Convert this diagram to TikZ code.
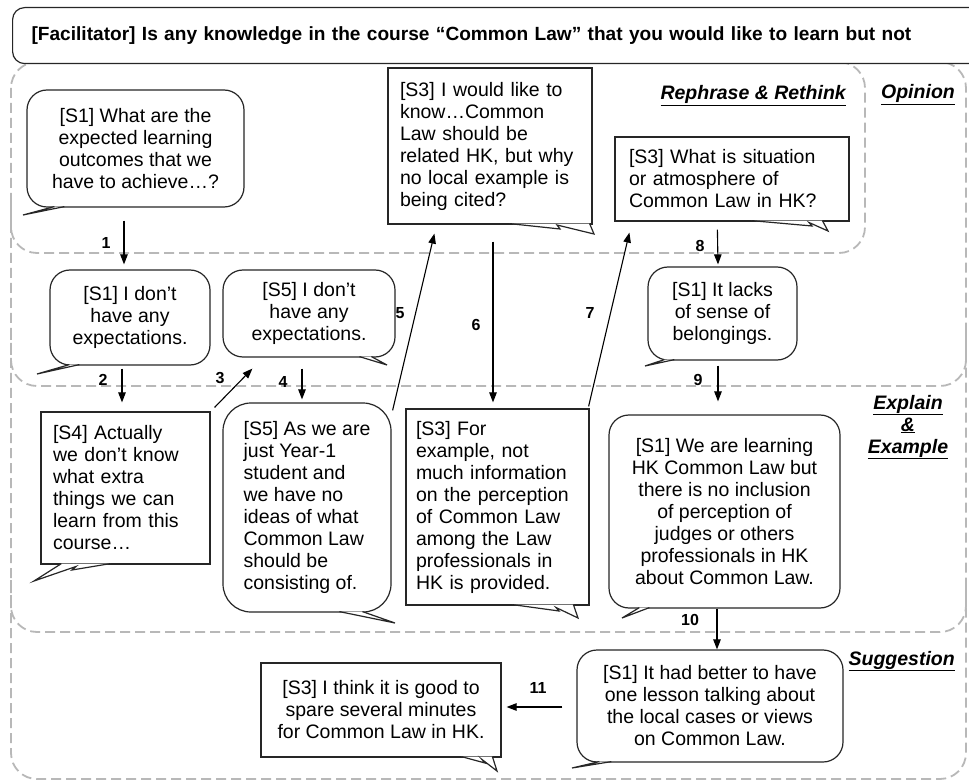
\documentclass[tikz,border=0pt]{standalone}
\usepackage{fontspec}
\setmainfont{Liberation Sans}
\usetikzlibrary{arrows.meta, calc}

\begin{document}
\begin{tikzpicture}[x=1pt, y=-1pt,
    zone/.style={draw=black!28, line width=1.8pt, dash pattern=on 10pt off 5pt, rounded corners=26pt},
    talk/.style={draw=black!85, line width=1.2pt, fill=white, inner sep=0pt,
                 font=\fontsize{19.5}{22}\selectfont},
    bubble/.style={talk, rounded corners=20pt, align=center},
    card/.style={talk, align=left, inner xsep=12pt},
    tail/.style={draw=black!85, line width=1.2pt, fill=white, line join=miter},
    flow/.style={-{Triangle[length=10pt,width=7.5pt]}, line width=1.1pt},
    seq/.style={font=\fontsize{16}{16}\bfseries\selectfont},
    tag/.style={inner sep=0pt, font=\fontsize{19.5}{22}\bfseries\itshape\selectfont}]

  \useasboundingbox (0,0) rectangle (969,783);
  \clip (0,0) rectangle (969,783);

  % Dashed zones: whole discussion, then Rephrase, Opinion and Explain parts
  \draw[zone] (11,62) rectangle (966,779);
  \draw[zone] (11,200) |- (865,253) |- (820,62);
  \draw[zone] (11,330) |- (966,386) -- (966,330);
  \draw[zone] (11,580) |- (966,632) -- (966,580);

  % Facilitator question
  \node[talk, rounded corners=12pt, anchor=north west, text width=960pt,
        inner xsep=19pt, minimum height=56pt, align=left,
        font=\fontsize{19.1}{22}\bfseries\selectfont] (prompt) at (12,7)
    {[Facilitator] Is any knowledge in the course “Common Law” that you would like to learn but not};

  % Zone titles
  \node[tag, anchor=base east] (rethink) at (846,100) {\underline{Rephrase \& Rethink}};
  \node[tag, anchor=base east] (opinion) at (955,99) {\underline{Opinion}};
  \node[tag, align=center] (explain) at (908,427) {\underline{Explain}\\\underline{\&}\\\underline{Example}};
  \node[tag, anchor=base east] (suggest) at (955,665) {\underline{Suggestion}};

  % Opinion part
  \node[bubble, minimum width=217pt, minimum height=117pt] (s1q) at (135.5,148.5)
    {[S1] What are the\\expected learning\\outcomes that we\\have to achieve…?};
  \node[card, text width=180pt, minimum height=156pt] (s3know) at (490,146)
    {[S3] I would like to\\know…Common\\Law should be\\related HK, but why\\no local example is\\being cited?};
  \node[card, text width=206pt, inner xsep=14pt, minimum height=84pt] (s3atm) at (732,179)
    {[S3] What is situation\\or atmosphere of\\Common Law in HK?};
  \node[bubble, minimum width=160pt, minimum height=95pt] (s1none) at (130,317.5)
    {[S1] I don't\\have any\\expectations.};
  \node[bubble, minimum width=172pt, minimum height=87pt] (s5none) at (309,313.5)
    {[S5] I don't\\have any\\expectations.};
  \node[bubble, minimum width=149pt, minimum height=93pt] (s1lack) at (722.5,313.5)
    {[S1] It lacks\\of sense of\\belongings.};

  % Explain & Example part
  \node[card, text width=145pt, minimum height=152pt] (s4extra) at (125.5,488)
    {[S4] Actually\\we don't know\\what extra\\things we can\\learn from this\\course…};
  \node[bubble, align=left, rounded corners=28pt, minimum width=168pt, minimum height=209pt] (s5year) at (307,507.5)
    {[S5] As we are\\just Year-1\\student and\\we have no\\ideas of what\\Common Law\\should be\\consisting of.};
  \node[card, text width=163pt, inner xsep=10pt, minimum height=196pt] (s3info) at (497.5,507)
    {[S3] For\\example, not\\much information\\on the perception\\of Common Law\\among the Law\\professionals in\\HK is provided.};
  \node[bubble, minimum width=231pt, minimum height=193pt] (s1judge) at (724.5,511.5)
    {[S1] We are learning\\HK Common Law but\\there is no inclusion\\of perception of\\judges or others\\professionals in HK\\about Common Law.};

  % Suggestion part
  \node[bubble, minimum width=266pt, minimum height=112pt] (s1lesson) at (710,706)
    {[S1] It had better to have\\one lesson talking about\\the local cases or views\\on Common Law.};
  \node[talk, align=center, minimum width=240pt, minimum height=94pt] (s3spare) at (381,710)
    {[S3] I think it is good to\\spare several minutes\\for Common Law in HK.};

  % Speech tails
  \filldraw[tail] ($(s1q.south west)+(38,-1)$) -- (23,215) -- ($(s1q.south west)+(28,-1)$);
  \filldraw[tail] ($(s3know.south west)+(122,-1)$) -- (560,229) -- (557,225) -- (594,234) -- ($(s3know.south east)+(-3,-1)$);
  \filldraw[tail] ($(s3atm.south west)+(137,-1)$) -- (812,226) -- (809,222.5) -- (828,231) -- ($(s3atm.south west)+(208,-1)$);
  \filldraw[tail] ($(s1none.south west)+(30,-1)$) -- (37,374) -- ($(s1none.south west)+(20,-1)$);
  \filldraw[tail] ($(s5none.south west)+(137,-1)$) -- (387,365) -- ($(s5none.south west)+(149,-1)$);
  \filldraw[tail] ($(s1lack.south west)+(27,-1)$) -- (645,366) -- ($(s1lack.south west)+(17,-1)$);
  \filldraw[tail] ($(s4extra.south west)+(70,-1)$) -- (72,570) -- (76,566.5) -- (34,581) -- ($(s4extra.south west)+(21,-1)$);
  \filldraw[tail] ($(s5year.south west)+(117,-1)$) -- (395,623) -- ($(s5year.south west)+(140,-1)$);
  \filldraw[tail] ($(s3info.south west)+(107,-1)$) -- (559,611) -- (556,607.5) -- (578,618) -- ($(s3info.south west)+(168,-1)$);
  \filldraw[tail] ($(s1judge.south west)+(41,-1)$) -- (622,618) -- ($(s1judge.south west)+(31,-1)$);
  \filldraw[tail] ($(s1lesson.south west)+(35,-1)$) -- (572,768) -- ($(s1lesson.south west)+(23,-1)$);
  \filldraw[tail] ($(s3spare.south west)+(201,-1)$) -- (485,763) -- (482,759.5) -- (497,771) -- ($(s3spare.south west)+(232,-1)$);

  % Numbered turns
  \draw[flow] ([xshift=-11.5pt,yshift=-13pt]s1q.south) -- ([xshift=-6pt,yshift=5pt]s1none.north);
  \draw[flow] ([xshift=-8pt,yshift=-3pt]s1none.south) -- ([xshift=-3.5pt,yshift=9pt]s4extra.north);
  \draw[flow] ([xshift=4pt,yshift=4pt]s4extra.north east) -- ([xshift=30pt,yshift=-11pt]s5none.south west);
  \draw[flow] ([xshift=-7pt,yshift=-11pt]s5none.south) -- ([xshift=-5pt,yshift=3pt]s5year.north);
  \draw[flow] ([xshift=1pt,yshift=-8pt]s5year.north east) -- ([xshift=47pt,yshift=-9pt]s3know.south west);
  \draw[flow] ([xshift=3pt,yshift=-17pt]s3know.south) -- ([xshift=-4.5pt,yshift=6pt]s3info.north);
  \draw[flow] ([xshift=-1pt,yshift=2pt]s3info.north east) -- ([xshift=15pt,yshift=-11pt]s3atm.south west);
  \draw[flow] ([xshift=103pt,yshift=-8pt]s3atm.south west) -- ([xshift=-4.5pt,yshift=2pt]s1lack.north);
  \draw[flow] ([xshift=-4.5pt,yshift=-5pt]s1lack.south) -- ([xshift=-6.5pt,yshift=13pt]s1judge.north);
  \draw[flow] ([xshift=-7.5pt]s1judge.south) -- ([xshift=7pt]s1lesson.north);
  \draw[flow] ([xshift=-14pt,yshift=-1pt]s1lesson.west) -- ([xshift=5pt,yshift=3pt]s3spare.east);

  \node[seq] (n1) at (106,243) {1};
  \node[seq] (n2) at (103,380) {2};
  \node[seq] (n3) at (220,378) {3};
  \node[seq] (n4) at (283,382) {4};
  \node[seq] (n5) at (400,313) {5};
  \node[seq] (n6) at (476,325) {6};
  \node[seq] (n7) at (590,313) {7};
  \node[seq] (n8) at (700,246) {8};
  \node[seq] (n9) at (698,380) {9};
  \node[seq] (n10) at (690,620) {10};
  \node[seq] (n11) at (538,688) {11};

\end{tikzpicture}
\end{document}
